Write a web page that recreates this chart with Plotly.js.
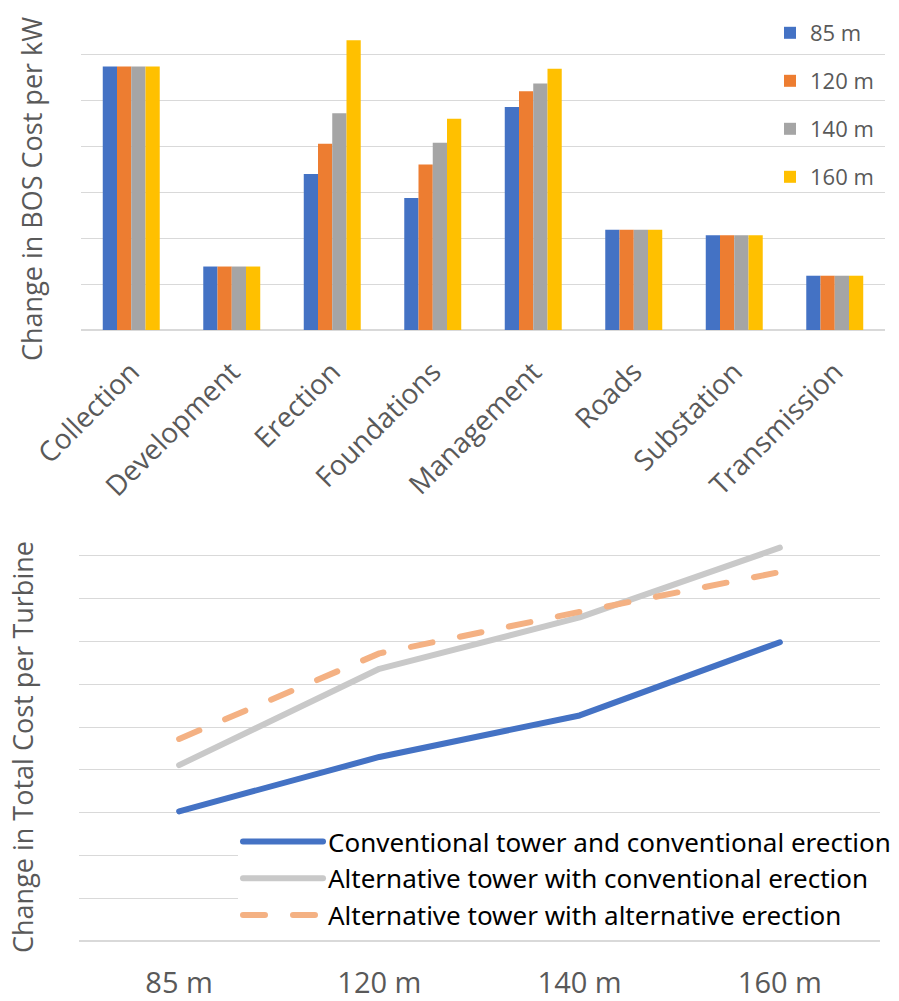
<!DOCTYPE html>
<html>
<head>
<meta charset="utf-8">
<script src="https://cdn.plot.ly/plotly-3.0.1.min.js"></script>
<style>
  html, body { margin: 0; padding: 0; background: #ffffff; }
  #chart { width: 899px; height: 1001px; }
  .scatterlayer .js-line, .legendlines .js-line { stroke-linecap: round; stroke-linejoin: round; }
</style>
</head>
<body>
<div id="chart"></div>
<script>
// BOS cost components and the change per kW for each hub height
const categories = ['Collection', 'Development', 'Erection', 'Foundations', 'Management', 'Roads', 'Substation', 'Transmission'];
const barSeriesNames = ['85 m', '120 m', '140 m', '160 m'];
const bos85 = [5.73, 1.38, 3.39, 2.87, 4.85, 2.18, 2.06, 1.18];
const bos120 = [5.73, 1.38, 4.05, 3.60, 5.19, 2.18, 2.06, 1.18];
const bos140 = [5.73, 1.38, 4.71, 4.07, 5.36, 2.18, 2.06, 1.18];
const bos160 = [5.73, 1.38, 6.30, 4.59, 5.68, 2.18, 2.06, 1.18];

// Total cost per turbine by hub height for three tower/erection scenarios
const hubHeights = ['85 m', '120 m', '140 m', '160 m'];
const lineSeriesNames = [
  'Conventional tower and conventional erection',
  'Alternative tower with conventional erection',
  'Alternative tower with alternative erection'
];
const conventionalTower = [3.03, 4.30, 5.27, 6.98];
const altTowerConvErection = [4.11, 6.36, 7.56, 9.19];
const altTowerAltErection = [4.72, 6.72, 7.69, 8.62];

const W = 899, H = 1001;
const px = v => v / W;
const py = v => (H - v) / H;

const barColors = ['#4472C4', '#ED7D31', '#A5A5A5', '#FFC000'];
const barValues = [bos85, bos120, bos140, bos160];

const traces = barValues.map((vals, i) => ({
  type: 'bar',
  x: categories,
  y: vals,
  name: barSeriesNames[i],
  legendgroup: 'g' + i,
  legend: 'legend',
  marker: { color: barColors[i], line: { width: 0 } },
  xaxis: 'x', yaxis: 'y',
  hoverinfo: 'x+y+name'
}));

const lineStyles = [
  { color: '#4472C4', width: 6, dash: 'solid' },
  { color: '#C9C9C9', width: 6, dash: 'solid' },
  { color: '#F4B183', width: 6, dash: '22px,28px' }
];
const lineValues = [conventionalTower, altTowerConvErection, altTowerAltErection];
lineValues.forEach((vals, i) => {
  traces.push({
    type: 'scatter',
    mode: 'lines',
    x: hubHeights,
    y: vals,
    name: lineSeriesNames[i],
    legend: 'legend2',
    line: lineStyles[i],
    xaxis: 'x2', yaxis: 'y2'
  });
});

const gridColor = '#D9D9D9';
const labelColor = '#595959';

const layout = {
  width: W, height: H,
  margin: { l: 0, r: 0, t: 0, b: 0 },
  paper_bgcolor: '#ffffff',
  plot_bgcolor: 'rgba(0,0,0,0)',
  barmode: 'group',
  bargap: 0.433,
  bargroupgap: 0,
  showlegend: true,
  font: { family: 'Open Sans, sans-serif', color: labelColor },
  xaxis: {
    domain: [px(81), px(885)],
    anchor: 'y',
    type: 'category',
    tickangle: -45,
    tickfont: { size: 28, color: labelColor, family: 'Open Sans, sans-serif' },
    ticklabelstandoff: 19,
    showgrid: false,
    showline: false,
    ticks: '',
    automargin: false
  },
  yaxis: {
    domain: [py(330), py(8)],
    anchor: 'x',
    range: [0, 7],
    dtick: 1,
    showticklabels: false,
    showgrid: true,
    gridcolor: gridColor,
    gridwidth: 1.3,
    zeroline: true,
    zerolinecolor: gridColor,
    zerolinewidth: 1.5,
    ticks: '',
    automargin: false
  },
  xaxis2: {
    domain: [px(79), px(880)],
    anchor: 'y2',
    type: 'category',
    range: [-0.5, 3.5],
    tickfont: { size: 29, color: labelColor, family: 'Open Sans, sans-serif' },
    ticklabelstandoff: 22,
    showgrid: false,
    showline: false,
    ticks: '',
    automargin: false
  },
  yaxis2: {
    domain: [py(941), py(513)],
    anchor: 'x2',
    range: [0, 10],
    dtick: 1,
    showticklabels: false,
    showgrid: true,
    gridcolor: gridColor,
    gridwidth: 1.3,
    zeroline: true,
    zerolinecolor: gridColor,
    zerolinewidth: 1.5,
    ticks: '',
    automargin: false
  },
  legend: {
    x: px(770), xanchor: 'left',
    y: py(12), yanchor: 'top',
    bgcolor: 'rgba(0,0,0,0)',
    borderwidth: 0,
    font: { size: 22, color: labelColor, family: 'Open Sans, sans-serif' },
    tracegroupgap: 16.4,
    traceorder: 'grouped'
  },
  legend2: {
    x: px(238), xanchor: 'left',
    y: py(818), yanchor: 'top',
    bgcolor: '#ffffff',
    borderwidth: 0,
    font: { size: 26, color: '#000000', family: 'Noto Sans, sans-serif' },
    itemwidth: 80,
    tracegroupgap: 0,
    traceorder: 'normal'
  },
  annotations: [
    {
      text: 'Change in BOS Cost per kW',
      xref: 'paper', yref: 'paper',
      x: px(31), y: py(189), xanchor: 'center', yanchor: 'middle',
      textangle: -90, showarrow: false,
      font: { size: 27, color: labelColor, family: 'Open Sans, sans-serif' }
    },
    {
      text: 'Change in Total Cost per Turbine',
      xref: 'paper', yref: 'paper',
      x: px(23), y: py(747), xanchor: 'center', yanchor: 'middle',
      textangle: -90, showarrow: false,
      font: { size: 27, color: labelColor, family: 'Open Sans, sans-serif' }
    }
  ]
};

Plotly.newPlot('chart', traces, layout, { displayModeBar: false, responsive: false });
</script>
</body>
</html>
